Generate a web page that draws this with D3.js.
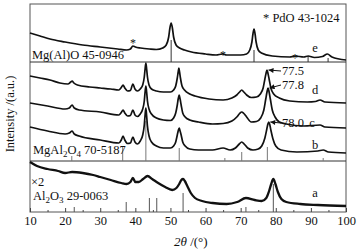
<!DOCTYPE html>
<html>
<head>
<meta charset="utf-8">
<script src="https://cdn.jsdelivr.net/npm/d3@7/dist/d3.min.js"></script>
<style>
body { margin: 0; background: #fff; }
svg text { font-family: "Liberation Serif", "Times New Roman", serif; fill: #111; }
</style>
</head>
<body>
<script>
// x ticks (2 theta, degrees)
const xTicks = [10, 20, 30, 40, 50, 60, 70, 80, 90, 100];
const xMinor = [15, 25, 35, 45, 55, 65, 75, 85, 95];

// patterns: [2theta, intensity a.u.]
const patE = [[10,179],[12.85,176],[15.7,173],[20,170],[25,167],[30,165],[35,163],[37.5,162],[38.6,163],[39.3,166],[40,165],[41.5,164],[44,163],[46,162.5],[47.8,164],[48.8,167],[49.5,175],[49.85,184],[50.2,189],[50.55,184],[50.9,175],[51.6,167],[52.6,164],[54,162],[56,160],[60,158],[63,157],[64.8,158],[66,157],[70,157],[71.7,158],[72.6,162],[73.2,170],[73.5,178],[73.8,183],[74.1,178],[74.4,170],[75,162],[75.9,159],[79,156],[84,155],[85.5,156],[88,155],[89.2,156],[91,154.5],[93.3,155.5],[94.7,158],[96,155],[100,152]];
const patD = [[10,136],[12.85,134],[15.7,132],[18.5,129],[20.8,128],[21.6,130],[22,131],[22.5,129],[23.5,127],[27,125],[30,124],[33,123],[35.3,122],[36,124.5],[36.5,127],[37,124],[37.8,121],[38.6,121.5],[39.3,128],[39.9,123],[40.6,121],[41.4,123],[42.1,127],[42.55,135],[42.78,143],[43,149],[43.22,143],[43.45,135],[43.9,127],[44.6,123],[46,121],[48,120],[50,120],[50.9,122],[51.5,126],[51.95,134],[52.2,140],[52.4,144],[52.6,140],[52.85,134],[53.3,126],[54,122],[55.5,118],[57,116],[61,113],[65,112],[67.5,114],[68.9,117],[69.7,120],[70.3,122],[70.9,120],[71.7,117],[73,114.5],[74.5,115],[75.6,118],[76.4,124],[76.9,133],[77.25,139],[77.5,142],[77.75,139],[78.1,133],[78.6,124],[79.4,118],[81,114],[84,111],[89,110],[91.3,110.5],[92.6,112],[94,110],[100,109]];
const patC = [[10,109],[15,106],[20,103],[21.2,104],[22,107],[22.6,104],[24,102],[30,100],[35.3,97],[36,99.5],[36.5,102],[37,99],[37.8,96],[38.6,96.5],[39.3,102],[39.9,97],[40.6,95.5],[41.4,98],[42.1,103],[42.55,111],[42.78,120],[43,126],[43.22,120],[43.45,111],[43.9,103],[44.6,98],[46,94],[48,92],[50,91.5],[50.9,94],[51.5,99],[51.95,107],[52.2,113],[52.5,117],[52.75,113],[53.05,107],[53.5,99],[54.2,95],[55.5,92],[58,90],[62,88],[65,88.5],[67.5,91],[68.9,95],[69.7,98.5],[70.3,100],[70.9,98.5],[71.7,95],[73,90],[74.5,90.5],[75.7,94],[76.6,102],[77.15,113],[77.5,120],[77.8,124],[78.1,120],[78.45,113],[79,102],[79.8,95],[81,90],[83,88],[88,86],[92.6,87],[94,85],[100,84]];
const patB = [[10,85],[15,81],[20,78],[21.2,79],[22,81],[22.6,78],[24,76],[30,72],[35.3,69],[36,72],[36.5,76],[37,72],[37.8,68.5],[38.6,69],[39.3,75],[39.9,70],[40.6,68],[41.4,71],[42.1,77],[42.55,87],[42.78,97],[43,104],[43.22,96],[43.45,86],[43.9,76],[44.6,70],[46,66],[48,64],[50,64],[50.9,66],[51.5,70],[51.95,77],[52.2,81],[52.5,84],[52.75,81],[53.05,77],[53.5,70],[54.2,66],[55.5,63],[58,62],[62,62],[65,64],[67,62],[68.5,64],[69.6,68],[70.3,70],[71,68],[72,64],[73.5,62],[75,63],[76,66],[76.9,74],[77.45,83],[77.75,88],[78,90],[78.25,88],[78.6,82],[79.2,73],[80,66],[81.5,62],[86,60],[92,61],[93.5,62],[95,60],[100,59]];
const patA = [[10,50],[12,46],[15,43],[18,41],[20,39],[22,40],[25,39],[28,37],[30,35],[33,32],[36,29],[37.5,28],[38.6,30],[39.3,34],[40,30],[41,30],[42.2,33],[43.5,36],[44.8,33],[46.5,29],[48.5,25],[50.5,22],[51.7,24],[52.5,28],[53.1,32],[53.6,33],[54.1,31],[54.8,26],[55.8,19],[57,14],[59,11],[62,9],[66,8],[69,10],[71.5,14],[74,12],[76,11],[77.3,14],[78.1,21],[78.7,28],[79.3,33],[79.9,28],[80.6,20],[81.6,13],[83,10],[87,8],[92,7],[100,6]];

// reference cards: [2theta, relative height]
const mgaloBase = 150;
const mgaloSticks = [[50.2,22],[73.8,12],[89.2,6],[94.9,4]];
const spinelBase = 51;
const spinelSticks = [[21.9,5],[36.4,14],[43.0,40],[52.5,13],[65.5,3],[70.3,9],[77.6,14],[93.5,3]];
const aluminaSticks = [[22.6,5],[37.4,10],[44.0,14],[46.1,14],[53.6,19],[71.5,5],[79.3,28]];

// PdO marks and shifted peak labels
const pdoMarks = [[39.3,173],[65.0,161],[85.5,158]];
const shiftPeaks = [
  {label: "77.5", pos: 77.5, top: 142},
  {label: "77.8", pos: 77.8, top: 124},
  {label: "78.0", pos: 78.0, top: 90}
];

const svg = d3.select("body").append("svg")
  .attr("width", 360)
  .attr("height", 250);

const x = d3.scaleLinear().domain([10, 100]).range([30, 346]);
const y = d3.scaleLinear().domain([0, 208]).range([212, 4]);

svg.append("defs").append("marker")
  .attr("id", "arr")
  .attr("viewBox", "0 0 10 10")
  .attr("refX", 10).attr("refY", 5)
  .attr("markerWidth", 6).attr("markerHeight", 5)
  .attr("markerUnits", "userSpaceOnUse")
  .attr("orient", "auto")
  .append("path")
  .attr("d", "M0,0L10,5L0,10z")
  .attr("fill", "#111");

// frame
svg.append("rect")
  .attr("x", x(10)).attr("y", y(208))
  .attr("width", x(100) - x(10)).attr("height", y(0) - y(208))
  .attr("fill", "none").attr("stroke", "#555").attr("stroke-width", 1);

// axis
const ax = svg.append("g")
  .attr("transform", `translate(0,${y(0)})`)
  .call(d3.axisBottom(x).tickValues(xTicks).tickSize(-4).tickPadding(4).tickFormat(d3.format("d")));
ax.select(".domain").remove();
ax.selectAll("line").attr("stroke", "#444");
ax.selectAll("text").attr("font-size", 12.5).attr("font-family", "Liberation Serif, serif").attr("fill", "#111");

const axm = svg.append("g")
  .attr("transform", `translate(0,${y(0)})`)
  .call(d3.axisBottom(x).tickValues(xMinor).tickSize(-2).tickFormat(""));
axm.select(".domain").remove();
axm.selectAll("line").attr("stroke", "#444");

// reference lines and sticks
function sticks(list, base, col) {
  svg.append("g").selectAll("line")
    .data(list)
    .enter()
    .append("line")
    .attr("x1", d => x(d[0])).attr("x2", d => x(d[0]))
    .attr("y1", y(base)).attr("y2", d => y(base + d[1]))
    .attr("stroke", col).attr("stroke-width", 1);
}
[mgaloBase, spinelBase].forEach(b => {
  svg.append("line")
    .attr("x1", x(10)).attr("x2", x(100))
    .attr("y1", y(b)).attr("y2", y(b))
    .attr("stroke", "#333").attr("stroke-width", 1);
});
sticks(mgaloSticks, mgaloBase, "#333");
sticks(spinelSticks, spinelBase, "#777");
sticks(aluminaSticks, 0, "#555");

// patterns
const line = d3.line()
  .x(d => x(d[0]))
  .y(d => y(d[1]))
  .curve(d3.curveMonotoneX);

[[patE, 1.7], [patD, 1.7], [patC, 1.7], [patB, 1.7], [patA, 2.3]].forEach(p => {
  svg.append("path")
    .datum(p[0])
    .attr("d", line)
    .attr("fill", "none")
    .attr("stroke", "#111")
    .attr("stroke-width", p[1])
    .attr("stroke-linejoin", "round");
});

// PdO asterisks
svg.selectAll(".star")
  .data(pdoMarks)
  .enter()
  .append("text")
  .attr("x", d => x(d[0]))
  .attr("y", d => y(d[1]) + 8)
  .attr("text-anchor", "middle")
  .attr("font-size", 12)
  .attr("fill", "#111")
  .text("*");

// shifted peak annotations
const ann = svg.append("g");
shiftPeaks.forEach((p, i) => {
  const ty = [75, 89, 127][i];
  ann.append("line")
    .attr("x1", 281).attr("y1", ty - 4)
    .attr("x2", x(p.pos) + 1.5).attr("y2", y(p.top))
    .attr("stroke", "#111").attr("stroke-width", 1)
    .attr("marker-end", "url(#arr)");
  ann.append("text")
    .attr("x", 282).attr("y", ty)
    .attr("font-size", 12.5)
    .text(p.label);
});

// text labels
const fs = 12.5;
function label(t, px, py, anchor) {
  return svg.append("text").attr("x", px).attr("y", py)
    .attr("font-size", fs).attr("text-anchor", anchor || "start").text(t);
}
label("e", 315, 52, "middle");
label("d", 315, 94, "middle");
label("c", 312, 127, "middle");
label("b", 315, 149, "middle");
label("a", 315, 197, "middle");
label("* PdO 43-1024", 263, 22);
label("Mg(Al)O 45-0946", 32, 59);
label("\u00d72", 31, 186);

const sp = svg.append("text").attr("x", 33).attr("y", 154).attr("font-size", fs);
sp.append("tspan").text("MgAl");
sp.append("tspan").attr("dy", 3).attr("font-size", 9).text("2");
sp.append("tspan").attr("dy", -3).text("O");
sp.append("tspan").attr("dy", 3).attr("font-size", 9).text("4");
sp.append("tspan").attr("dy", -3).text(" 70-5187");

const al = svg.append("text").attr("x", 33).attr("y", 200).attr("font-size", fs);
al.append("tspan").text("Al");
al.append("tspan").attr("dy", 3).attr("font-size", 9).text("2");
al.append("tspan").attr("dy", -3).text("O");
al.append("tspan").attr("dy", 3).attr("font-size", 9).text("3");
al.append("tspan").attr("dy", -3).text(" 29-0063");

// axis titles
const xt = svg.append("text").attr("x", 174).attr("y", 246).attr("font-size", 13);
xt.append("tspan").attr("font-style", "italic").text("2\u03b8");
xt.append("tspan").text(" /(\u00b0)");

svg.append("text")
  .attr("transform", "translate(14,114) rotate(-90)")
  .attr("text-anchor", "middle")
  .attr("font-size", 12.5)
  .text("Intensity /(a.u.)");
</script>
</body>
</html>
